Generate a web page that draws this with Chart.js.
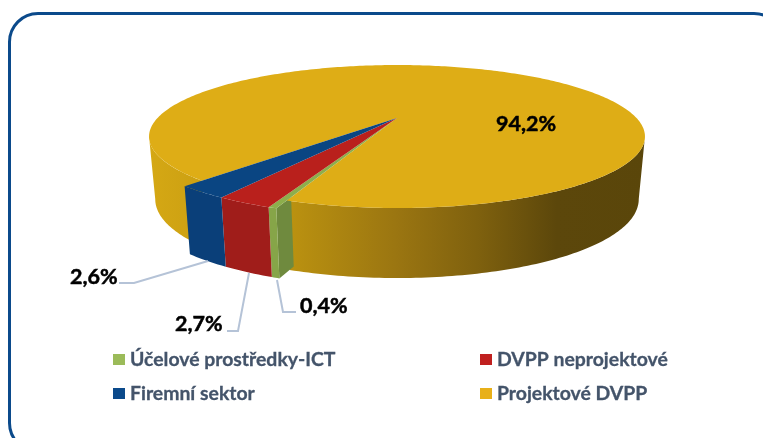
<!DOCTYPE html>
<html>
<head>
<meta charset="utf-8">
<title>Chart</title>
<script src="https://cdn.jsdelivr.net/npm/chart.js@4"></script>
<style>
  html, body { margin: 0; padding: 0; width: 763px; height: 438px; overflow: hidden; background: #fff; }
  #frame { position: absolute; left: 8px; top: 12px; width: 770px; height: 435px; border: 3px solid #0b4a8b; border-radius: 30px; }
  #chart { position: absolute; left: 0; top: 0; }
</style>
</head>
<body>
<div id="frame"></div>
<canvas id="chart" width="763" height="438"></canvas>
<script>
const categories = ["Účelové prostředky-ICT", "DVPP neprojektové", "Firemní sektor", "Projektové DVPP"];
const shares = [0.4, 2.7, 2.6, 94.2];
const shareLabels = ["0,4%", "2,7%", "2,6%", "94,2%"];
const legendColors = ["#9bbb59", "#c0201f", "#0b4a8b", "#e8b019"];
const topColors = ["#8dae4c", "#b9201c", "#0a4582", "#dead16"];
const wallColors = ["#86a548", "#a01d1a", "#0a3f79", null];

// perspective of the pie top: apex of the wedge, radii, vanishing factor
const APEX_X = 397, APEX_Y = 118, RAD_X = 239.5, RAD_Y = 66.7, PERSP = 0.259;
const PULLED = 1.07; // small slices stick out of the gold rim
const SIDE = Math.asin(PERSP); // angle of the widest point of the rim

function project(theta, r, low) {
  const u = r * Math.cos(theta), v = r * Math.sin(theta), w = 1 - PERSP * v;
  let x = RAD_X * u / w, y = RAD_Y * v / w;
  if (low) { x *= 0.975; y += 60 + 10 * v; }
  return [APEX_X + x, APEX_Y + y];
}

function trace(ctx, pts) {
  ctx.beginPath();
  pts.forEach((p, i) => i ? ctx.lineTo(p[0], p[1]) : ctx.moveTo(p[0], p[1]));
  ctx.closePath();
}

function rim(a0, a1, r, low) {
  const pts = [], n = Math.max(4, Math.ceil(Math.abs(a1 - a0) * 60));
  for (let i = 0; i <= n; i++) pts.push(project(a0 + (a1 - a0) * i / n, r, low));
  return pts;
}

function wall(a0, a1, r) {
  return rim(a0, a1, r, false).concat(rim(a1, a0, r, true));
}

function topFace(a0, a1, r) {
  return [[APEX_X, APEX_Y]].concat(rim(a0, a1, r, false));
}

function boldText(ctx, text, x, y) {
  ctx.fillText(text, x, y);
  ctx.strokeText(text, x, y);
}

/* ── Pie with depth, drawn from the arc angles of the library ─*/
const pie3d = {
  id: "pie3d",
  beforeDatasetsDraw(chart) {
    const ctx = chart.ctx;
    const arcs = chart.getDatasetMeta(0).data;
    const gold = arcs[3], green = arcs[0];

    const grad = ctx.createLinearGradient(150, 0, 646, 0);
    grad.addColorStop(0, "#d5a814");
    grad.addColorStop(0.28, "#bb9210");
    grad.addColorStop(0.5, "#9a7511");
    grad.addColorStop(0.66, "#7f610e");
    grad.addColorStop(0.82, "#5c470b");
    grad.addColorStop(1, "#5a460a");
    ctx.save();
    ctx.fillStyle = grad;
    // only the front of the gold wall shows, the wedge covers its gap
    trace(ctx, wall(SIDE, gold.endAngle - 2 * Math.PI, 1));
    ctx.fill();
    trace(ctx, wall(gold.startAngle, Math.PI - SIDE, 1));
    ctx.fill();

    // cut side of the green slice, the rest is hidden by the gold top
    const g0 = green.startAngle;
    ctx.fillStyle = "#6f8a3e";
    trace(ctx, [project(g0, PULLED, false), project(g0, 0.97, false), project(g0, 0.97, true), project(g0, PULLED, true)]);
    ctx.fill();

    ctx.fillStyle = topColors[3];
    trace(ctx, topFace(gold.startAngle, gold.endAngle, 1));
    ctx.fill();

    for (let i = 0; i < 3; i++) {
      const a = arcs[i];
      ctx.fillStyle = wallColors[i];
      trace(ctx, wall(a.startAngle, a.endAngle, PULLED));
      ctx.fill();
      ctx.fillStyle = topColors[i];
      trace(ctx, topFace(a.startAngle, a.endAngle, PULLED));
      ctx.fill();
    }
    ctx.restore();
    return false;
  },
  afterDraw(chart) {
    const ctx = chart.ctx;
    ctx.save();

    // leader lines
    ctx.strokeStyle = "#b5c3d7";
    ctx.lineWidth = 2;
    [
      [[119, 283], [134, 283], [208, 261]],
      [[227, 331], [238, 331], [249, 273]],
      [[277, 280], [283, 312], [296, 312]]
    ].forEach(line => {
      ctx.beginPath();
      line.forEach((p, i) => i ? ctx.lineTo(p[0], p[1]) : ctx.moveTo(p[0], p[1]));
      ctx.stroke();
    });

    // value labels
    ctx.fillStyle = "#000";
    ctx.strokeStyle = "#000";
    ctx.lineWidth = 0.5;
    ctx.font = "bold 21.5px Lato";
    ctx.textBaseline = "middle";
    ctx.textAlign = "left";
    boldText(ctx, shareLabels[0], 300, 306);
    boldText(ctx, shareLabels[1], 175, 324);
    boldText(ctx, shareLabels[2], 70, 277);
    boldText(ctx, shareLabels[3], 496, 124);

    // legend, two columns
    const legendX = [113, 480], legendY = [360, 394], textX = [130, 497];
    ctx.font = "bold 19.4px Lato";
    categories.forEach((name, i) => {
      const y = legendY[Math.floor(i / 2)];
      ctx.fillStyle = legendColors[i];
      ctx.fillRect(legendX[i % 2], y - 6, 12, 11);
      ctx.fillStyle = "#44546a";
      ctx.strokeStyle = "#44546a";
      ctx.lineWidth = 0.3;
      boldText(ctx, name, textX[i % 2], y);
    });
    ctx.restore();
  }
};

new Chart(document.getElementById("chart"), {
  type: "pie",
  data: {
    labels: categories,
    datasets: [{ data: shares, backgroundColor: topColors, borderWidth: 0 }]
  },
  options: {
    responsive: false,
    animation: false,
    rotation: 200.4,
    plugins: { legend: { display: false }, tooltip: { enabled: false } }
  },
  plugins: [pie3d]
});
</script>
</body>
</html>
